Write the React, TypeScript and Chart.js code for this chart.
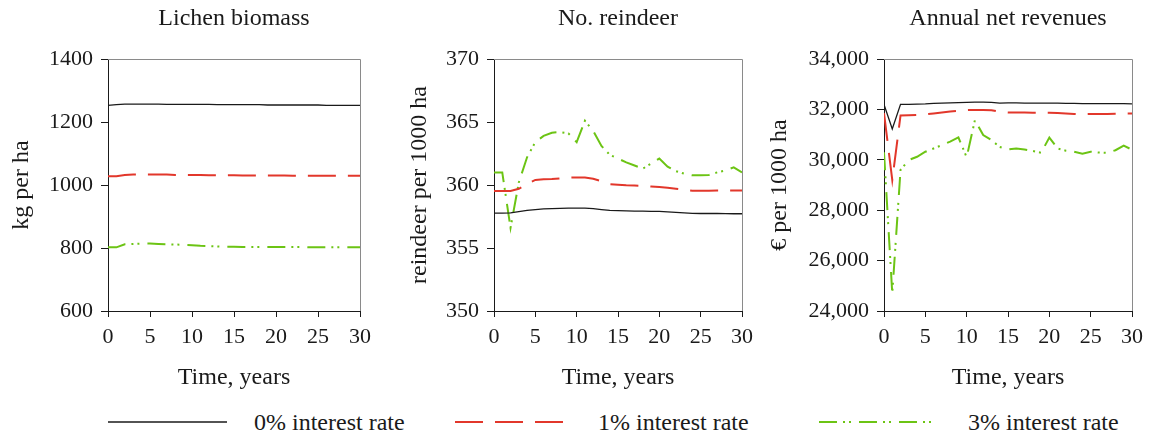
import React, { useEffect, useRef } from "react";
import { Chart, registerables } from "chart.js";

Chart.register(...registerables);

// ---------- data ----------
const years = [0,1,2,3,4,5,6,7,8,9,10,11,12,13,14,15,16,17,18,19,20,21,22,23,24,25,26,27,28,29,30];

const seriesNames = ["0% interest rate", "1% interest rate", "3% interest rate"];

// Lichen biomass (kg per ha)
const lichen0 = [1253,1255,1257,1257,1257,1257,1257,1256,1256,1256,1256,1256,1256,1255,1255,1255,1255,1255,1255,1254,1254,1254,1254,1254,1254,1254,1253,1253,1253,1253,1253];
const lichen1 = [1028,1028,1032,1033,1033,1033,1033,1033,1032,1032,1032,1032,1031,1031,1031,1031,1030,1030,1030,1030,1030,1030,1029,1029,1029,1029,1029,1029,1029,1029,1029];
const lichen3 = [802,802,812,813,814,814,813,812,811,810,809,807,806,805,804,804,803,803,803,803,803,803,803,803,802,802,802,802,802,802,802];

// No. reindeer (reindeer per 1000 ha)
const reindeer0 = [357.76,357.76,357.78,357.88,357.98,358.05,358.1,358.13,358.15,358.16,358.16,358.16,358.12,358.05,357.98,357.96,357.95,357.93,357.92,357.91,357.9,357.86,357.82,357.78,357.75,357.74,357.74,357.74,357.73,357.72,357.72];
const reindeer1 = [359.52,359.52,359.52,359.7,360.07,360.4,360.45,360.47,360.52,360.58,360.6,360.6,360.5,360.3,360.07,360.02,359.98,359.96,359.92,359.88,359.85,359.78,359.7,359.62,359.55,359.55,359.55,359.56,359.56,359.56,359.56];
const reindeer3 = [361.0,361.0,356.6,360.2,362.2,363.4,363.9,364.15,364.2,364.1,363.4,365.1,364.3,363.1,362.4,362.1,361.8,361.55,361.3,361.7,362.1,361.45,361.1,360.9,360.77,360.77,360.8,361.0,361.15,361.4,361.0];

// Annual net revenues (€ per 1000 ha)
const revenue0 = [32200,31220,32200,32200,32210,32220,32240,32250,32260,32270,32280,32290,32290,32280,32250,32260,32260,32250,32250,32250,32250,32250,32240,32240,32230,32230,32230,32230,32230,32230,32220];
const revenue1 = [31850,29200,31760,31770,31780,31800,31840,31880,31920,31950,31970,31980,31980,31970,31900,31880,31880,31880,31870,31870,31870,31860,31840,31820,31810,31820,31820,31820,31830,31840,31840];
const revenue3 = [30300,24700,29600,29990,30120,30320,30450,30580,30720,30890,30100,31580,30980,30780,30510,30410,30450,30410,30350,30280,30880,30450,30360,30320,30240,30320,30290,30280,30380,30560,30400];

const panelTitles = ["Lichen biomass", "No. reindeer", "Annual net revenues"];
const yTitles = ["kg per ha", "reindeer per 1000 ha", "€ per 1000 ha"];
const xTitle = "Time, years";
const yRanges = [
  { min: 600, max: 1400, step: 200, commas: false },
  { min: 350, max: 370, step: 5, commas: false },
  { min: 24000, max: 34000, step: 2000, commas: true },
];

// ---------- styles ----------
const FONT = "'Liberation Serif', 'Times New Roman', serif";
const TEXT = "#1a1a1a";
const lineColors = ["#1a1a1a", "#e2372b", "#6cc414"];
const lineWidths = [1.3, 2, 2];
const lineDashes: number[][] = [[], [28, 12], [18, 6, 2, 4, 2, 8]];

const framePlugin = {
  id: "frame",
  beforeDatasetsDraw(chart: any) {
    const { ctx, chartArea } = chart;
    const { left, right, top, bottom } = chartArea;
    ctx.save();
    ctx.strokeStyle = "#8a8a8a";
    ctx.lineWidth = 1;
    ctx.beginPath();
    ctx.moveTo(left, top + 0.5);
    ctx.lineTo(right + 0.5, top + 0.5);
    ctx.lineTo(right + 0.5, bottom);
    ctx.stroke();
    ctx.restore();
  },
};

type PanelProps = {
  idx: number;
  series: number[][];
  left: number;
  width: number;
  yWidth: number;
  yTitlePad: number;
};

const CANVAS_H = 400;

function Panel({ idx, series, left, width, yWidth, yTitlePad }: PanelProps) {
  const ref = useRef<HTMLCanvasElement | null>(null);
  useEffect(() => {
    if (!ref.current) return;
    const range = yRanges[idx];
    const chart = new Chart(ref.current, {
      type: "line",
      data: {
        datasets: series.map((vals, s) => ({
          label: seriesNames[s],
          data: years.map((x, i) => ({ x, y: vals[i] })),
          borderColor: lineColors[s],
          borderWidth: lineWidths[s],
          borderDash: lineDashes[s],
          pointRadius: 0,
          tension: 0,
          fill: false,
        })),
      },
      options: {
        responsive: false,
        animation: false,
        devicePixelRatio: 1,
        layout: { padding: { left: 0, right: width - yWidth - 252, top: 0, bottom: 0 } },
        plugins: {
          legend: { display: false },
          tooltip: { enabled: false },
          title: {
            display: true,
            text: panelTitles[idx],
            fullSize: false,
            color: TEXT,
            font: { family: FONT, size: 24, weight: "normal", lineHeight: 1.2 },
            padding: { top: 4.6, bottom: 25.6 },
          },
        },
        scales: {
          x: {
            type: "linear",
            min: 0,
            max: 30,
            afterFit: (s: any) => { s.height = 89; },
            ticks: {
              stepSize: 5,
              maxRotation: 0,
              autoSkip: false,
              padding: 7,
              color: TEXT,
              font: { family: FONT, size: 22 },
            },
            grid: { display: true, drawOnChartArea: false, drawTicks: true, tickLength: 6, color: "#1a1a1a", lineWidth: 1 },
            border: { display: true, color: "#1a1a1a", width: 1 },
            title: {
              display: true,
              text: xTitle,
              color: TEXT,
              font: { family: FONT, size: 24, lineHeight: 1.2 },
              padding: { top: 0, bottom: 7.6 },
            },
          },
          y: {
            type: "linear",
            min: range.min,
            max: range.max,
            afterFit: (s: any) => { s.width = yWidth; },
            ticks: {
              stepSize: range.step,
              padding: 8,
              color: TEXT,
              font: { family: FONT, size: 22 },
              callback: (v: any) => (range.commas ? Number(v).toLocaleString("en-US") : String(v)),
            },
            grid: { display: true, drawOnChartArea: false, drawTicks: true, tickLength: 7, color: "#1a1a1a", lineWidth: 1 },
            border: { display: true, color: "#1a1a1a", width: 1 },
            title: {
              display: true,
              text: yTitles[idx],
              color: TEXT,
              font: { family: FONT, size: 24, lineHeight: 1.2 },
              padding: { top: yTitlePad, bottom: 0 },
            },
          },
        },
      },
      plugins: [framePlugin],
    } as any);
    return () => chart.destroy();
  }, []);
  return (
    <canvas
      ref={ref}
      width={width}
      height={CANVAS_H}
      style={{ position: "absolute", left, top: 0, width, height: CANVAS_H }}
    />
  );
}

function LegendItem({ x1, x2, textLeft, s }: { x1: number; x2: number; textLeft: number; s: number }) {
  return (
    <>
      <svg
        width={x2 - x1}
        height={6}
        style={{ position: "absolute", left: x1, top: 419 }}
      >
        <line
          x1={0}
          y1={3}
          x2={x2 - x1}
          y2={3}
          stroke={lineColors[s]}
          strokeWidth={s === 0 ? 1.6 : 2}
          strokeDasharray={lineDashes[s].length ? lineDashes[s].join(" ") : undefined}
        />
      </svg>
      <div
        style={{
          position: "absolute",
          left: textLeft,
          top: 407,
          height: 30,
          lineHeight: "30px",
          fontFamily: FONT,
          fontSize: 24,
          color: TEXT,
          whiteSpace: "nowrap",
        }}
      >
        {seriesNames[s]}
      </div>
    </>
  );
}

export default function App() {
  return (
    <div style={{ position: "absolute", left: 0, top: 0, width: 1150, height: 437, background: "#fff", overflow: "hidden" }}>
      <Panel idx={0} series={[lichen0, lichen1, lichen3]} left={0} width={380} yWidth={108} yTitlePad={7.6} />
      <Panel idx={1} series={[reindeer0, reindeer1, reindeer3]} left={380} width={380} yWidth={114} yTitlePad={25.6} />
      <Panel idx={2} series={[revenue0, revenue1, revenue3]} left={760} width={390} yWidth={124} yTitlePad={5.6} />
      <LegendItem x1={108} x2={227} textLeft={254} s={0} />
      <LegendItem x1={455} x2={563} textLeft={598} s={1} />
      <LegendItem x1={819} x2={939} textLeft={968} s={2} />
    </div>
  );
}
